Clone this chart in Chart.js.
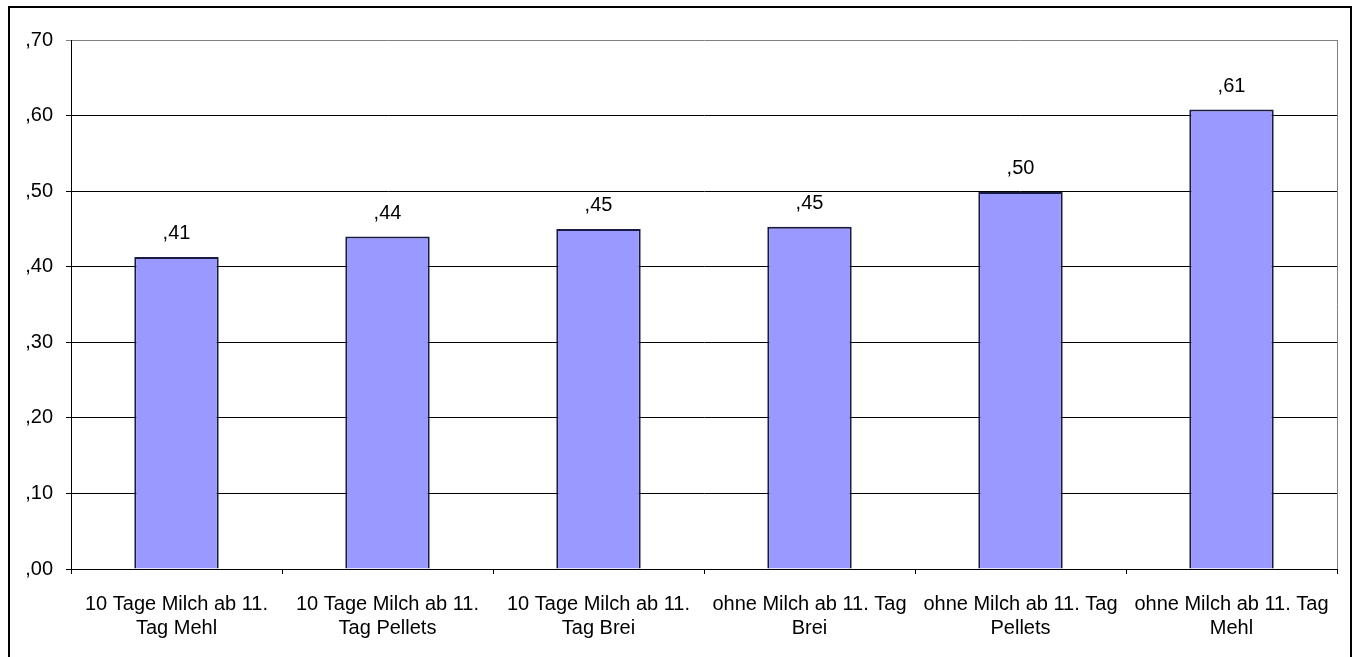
<!DOCTYPE html>
<html>
<head>
<meta charset="utf-8">
<script src="https://cdn.jsdelivr.net/npm/chart.js@4/dist/chart.umd.min.js"></script>
<style>
  html, body { margin: 0; padding: 0; background: #fff; overflow: hidden; }
  #frame {
    position: absolute; left: 8px; top: 6px; width: 1344px; height: 700px;
    box-sizing: border-box; border: 2px solid #000; border-bottom: none;
  }
  #wrap { position: absolute; left: 0; top: 0; width: 1353px; height: 657px; }
</style>
</head>
<body>
<div id="frame"></div>
<div id="wrap"><canvas id="myChart" width="1353" height="657"></canvas></div>
<script>
// categories and values
var categories = [
  ['10 Tage Milch ab 11.', 'Tag Mehl'],
  ['10 Tage Milch ab 11.', 'Tag Pellets'],
  ['10 Tage Milch ab 11.', 'Tag Brei'],
  ['ohne Milch ab 11. Tag', 'Brei'],
  ['ohne Milch ab 11. Tag', 'Pellets'],
  ['ohne Milch ab 11. Tag', 'Mehl']
];
var values = [0.413, 0.440, 0.450, 0.453, 0.499, 0.608];
var yTicks = [0, 0.1, 0.2, 0.3, 0.4, 0.5, 0.6, 0.7];

var font = { family: '"Liberation Sans", Arial, sans-serif', size: 20, lineHeight: 1.2 };

// ",41" style: decimal comma, no leading zero
function fmt(v) {
  return v.toFixed(2).replace(/^0/, '').replace('.', ',');
}

// value labels above bars + gray right plot border
var extras = {
  id: 'extras',
  afterDatasetsDraw: function(chart) {
    var ctx = chart.ctx;
    var area = chart.chartArea;
    ctx.save();
    ctx.strokeStyle = '#808080';
    ctx.lineWidth = 1;
    ctx.beginPath();
    ctx.moveTo(area.right + 0.5, area.top);
    ctx.lineTo(area.right + 0.5, area.bottom);
    ctx.stroke();

    ctx.fillStyle = '#000';
    ctx.font = font.size + 'px ' + font.family;
    ctx.textAlign = 'center';
    ctx.textBaseline = 'middle';
    var meta = chart.getDatasetMeta(0);
    for (var i = 0; i < meta.data.length; i++) {
      var bar = meta.data[i];
      ctx.fillText(fmt(values[i]), bar.x, bar.y - 23);
    }
    ctx.restore();
  }
};

var ctx = document.getElementById('myChart');
var chart = new Chart(ctx, {
  type: 'bar',
  data: {
    labels: categories,
    datasets: [{
      data: values,
      backgroundColor: '#9999FF',
      borderColor: '#1a1a40',
      borderWidth: 2,
      borderSkipped: 'bottom',
      barPercentage: 0.4,
      categoryPercentage: 1
    }]
  },
  options: {
    responsive: false,
    animation: false,
    events: [],
    layout: { padding: { top: 40, right: 16, left: 0, bottom: 0 } },
    plugins: { legend: { display: false }, tooltip: { enabled: false } },
    scales: {
      x: {
        offset: true,
        grid: {
          offset: true,
          drawOnChartArea: false,
          drawTicks: true,
          tickLength: 5,
          color: '#000'
        },
        border: { color: '#000', width: 1 },
        ticks: {
          color: '#000',
          font: font,
          padding: 18,
          maxRotation: 0,
          autoSkip: false
        },
        afterFit: function(scale) { scale.height = 88; }
      },
      y: {
        min: 0,
        max: 0.7,
        afterBuildTicks: function(scale) {
          scale.ticks = yTicks.map(function(v) { return { value: v }; });
        },
        grid: {
          color: function(c) { return c.tick && c.tick.value >= 0.7 ? '#808080' : '#000'; },
          tickLength: 5,
          lineWidth: 1
        },
        border: { color: '#000', width: 1 },
        ticks: {
          color: '#000',
          font: font,
          padding: 13,
          callback: function(v) { return fmt(v); }
        },
        afterFit: function(scale) { scale.width = 71; }
      }
    }
  },
  plugins: [extras]
});
</script>
</body>
</html>
